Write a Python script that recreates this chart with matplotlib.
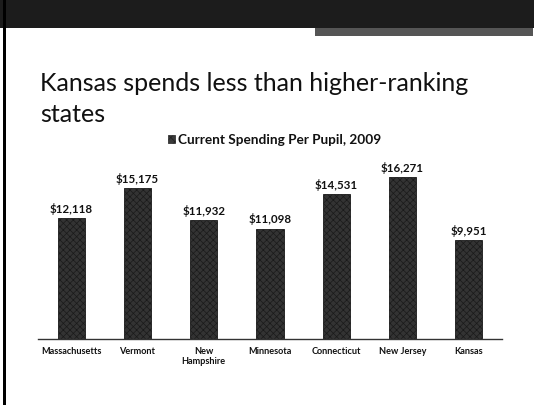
import matplotlib
matplotlib.use("Agg")
from matplotlib import pyplot as plt
from matplotlib.patches import Rectangle

# current spending per pupil, 2009 (dollars)
states = ['Massachusetts', 'Vermont', 'New\nHampshire', 'Minnesota',
          'Connecticut', 'New Jersey', 'Kansas']
spending = [12118, 15175, 11932, 11098, 14531, 16271, 9951]
value_labels = ['$12,118', '$15,175', '$11,932', '$11,098',
                '$14,531', '$16,271', '$9,951']

plt.rcParams['font.family'] = ['Lato', 'DejaVu Sans']
plt.rcParams['hatch.color'] = '#8a8a8a'
plt.rcParams['hatch.linewidth'] = 0.5

fig = plt.figure(figsize=(5.34, 4.06), dpi=100)
fig.patch.set_facecolor('white')

# scanned slide header band and border
fig.add_artist(Rectangle((0, 1 - 29 / 406), 1, 29 / 406, transform=fig.transFigure,
                         facecolor='#1c1c1c', edgecolor='none', hatch='xxxx'))
fig.add_artist(Rectangle((315 / 534, 1 - 37 / 406), 218 / 534, 8 / 406,
                         transform=fig.transFigure, facecolor='#555555',
                         edgecolor='none', hatch='....'))
fig.add_artist(Rectangle((3 / 534, 0), 3 / 534, 1, transform=fig.transFigure,
                         facecolor='black', edgecolor='none'))

fig.text(40 / 534, 1 - 122 / 406, 'Kansas spends less than higher-ranking\nstates',
         fontsize=18, color='#111111', ha='left', va='baseline', linespacing=1.4)

# legend line
fig.add_artist(Rectangle((168 / 534, 1 - 144 / 406), 7 / 534, 8 / 406,
                         transform=fig.transFigure, facecolor='#3a3a3a',
                         edgecolor='#222222', hatch='xxxx', lw=0.5))
fig.text(178 / 534, 1 - 140 / 406, 'Current Spending Per Pupil, 2009',
         fontsize=9.8, fontweight='bold', color='#111111', ha='left', va='center')

ax = fig.add_axes([38 / 534, 66 / 406, 464 / 534, 179 / 406])
x = range(len(states))
bars = ax.bar(x, spending, width=0.41, color='#333333', edgecolor='#1a1a1a',
              linewidth=0.6, hatch='xxxxx')
for b, lab in zip(bars, value_labels):
    ax.text(b.get_x() + b.get_width() / 2, b.get_height() + 450, lab,
            ha='center', va='bottom', fontsize=8.3, fontweight='bold', color='#111111')

ax.set_xlim(-0.5, len(states) - 0.5)
ax.set_ylim(0, 18000)
ax.set_xticks(list(x))
ax.set_xticklabels(states, fontsize=6.6, fontweight='bold', color='#111111',
                   linespacing=1.1)
ax.tick_params(axis='x', length=0, pad=5)
ax.set_yticks([])
for side in ['top', 'left', 'right']:
    ax.spines[side].set_visible(False)
ax.spines['bottom'].set_color('#333333')
ax.spines['bottom'].set_linewidth(1.0)
ax.set_facecolor('none')

fig.savefig('out.png', dpi=100)
